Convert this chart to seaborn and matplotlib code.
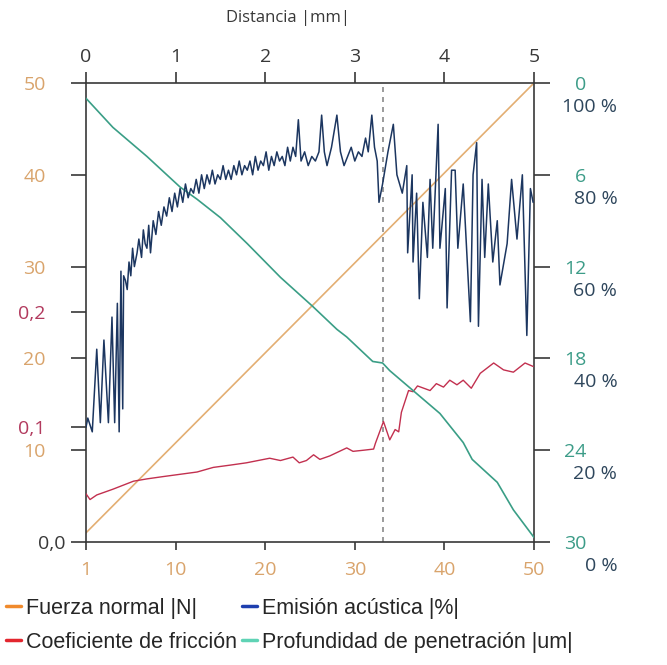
import matplotlib
matplotlib.use("Agg")
import matplotlib.pyplot as plt
import matplotlib.transforms as mtransforms
from matplotlib.lines import Line2D
import seaborn as sns

sns.set_style("white")
plt.rcParams['font.family'] = ['Open Sans', 'DejaVu Sans']

# Fuerza normal |N| (recta de 1 a 50 N)
fuerza_d = [0.0, 5.0]
fuerza_n = [1.0, 50.0]

# Profundidad de penetracion |um| (eje derecho, invertido)
prof_d = [0.0, 0.30, 0.68, 1.05, 1.24, 1.50, 1.80, 2.17, 2.53, 2.80, 2.91,
          3.20, 3.31, 3.39, 3.65, 3.95, 4.21, 4.31, 4.59, 4.77, 5.0]
prof_um = [1.0, 2.9, 4.8, 6.8, 7.6, 8.8, 10.5, 12.7, 14.6, 16.1, 16.6,
           18.2, 18.3, 18.8, 20.1, 21.6, 23.5, 24.6, 26.1, 27.9, 29.7]

# Coeficiente de friccion
fric_d = [0.0, 0.045, 0.12, 0.30, 0.53, 0.68, 0.86, 1.05, 1.24, 1.42, 1.61,
          1.79, 2.05, 2.17, 2.31, 2.38, 2.46, 2.54, 2.61, 2.72, 2.91, 2.98,
          3.10, 3.21, 3.23, 3.32, 3.39, 3.45, 3.49, 3.52, 3.60, 3.65, 3.70,
          3.77, 3.84, 3.91, 3.99, 4.06, 4.14, 4.21, 4.30, 4.40, 4.55, 4.66,
          4.77, 4.90, 4.99]
friccion = [0.042, 0.037, 0.041, 0.046, 0.053, 0.055, 0.057, 0.059, 0.061,
            0.065, 0.067, 0.069, 0.073, 0.071, 0.074, 0.069, 0.071, 0.076,
            0.072, 0.075, 0.082, 0.079, 0.080, 0.081, 0.086, 0.105, 0.089,
            0.098, 0.096, 0.113, 0.132, 0.131, 0.136, 0.134, 0.132, 0.138,
            0.135, 0.141, 0.137, 0.141, 0.134, 0.147, 0.156, 0.150, 0.148,
            0.156, 0.153]

# Emision acustica |%|
emision_d = [0.00, 0.02, 0.07, 0.12, 0.16, 0.20, 0.25, 0.29, 0.32, 0.35,
             0.37, 0.39, 0.41, 0.42, 0.44, 0.46, 0.48, 0.50, 0.52, 0.54,
             0.57, 0.59, 0.62, 0.64, 0.66, 0.68, 0.70, 0.72, 0.75, 0.78,
             0.81, 0.84, 0.87, 0.90, 0.93, 0.96, 0.99, 1.02, 1.05, 1.08,
             1.11, 1.14, 1.17, 1.20, 1.23, 1.26, 1.29, 1.32, 1.35, 1.38,
             1.41, 1.44, 1.47, 1.50, 1.53, 1.56, 1.59, 1.62, 1.65, 1.68,
             1.71, 1.74, 1.77, 1.80, 1.83, 1.86, 1.89, 1.92, 1.95, 1.98,
             2.01, 2.04, 2.07, 2.10, 2.13, 2.16, 2.19, 2.22, 2.25, 2.28,
             2.31, 2.34, 2.37, 2.40, 2.44, 2.48, 2.52, 2.56, 2.60, 2.63,
             2.66, 2.69, 2.74, 2.80, 2.84, 2.88, 2.92, 2.96, 3.00, 3.04,
             3.08, 3.12, 3.15, 3.19, 3.22, 3.25, 3.27, 3.31, 3.37, 3.43,
             3.47, 3.53, 3.58, 3.59, 3.64, 3.65, 3.69, 3.72, 3.76, 3.81,
             3.84, 3.87, 3.93, 3.95, 4.01, 4.03, 4.08, 4.12, 4.15, 4.21,
             4.29, 4.32, 4.36, 4.38, 4.42, 4.45, 4.49, 4.54, 4.59, 4.62,
             4.70, 4.75, 4.81, 4.87, 4.92, 4.96, 4.99]
emision_pct = [25, 27, 24, 42, 26, 44, 26, 49, 26, 52,
               24, 59, 29, 58, 57, 55, 61, 58, 64, 60,
               63, 66, 62, 68, 65, 64, 69, 63, 70, 67,
               72, 69, 73, 71, 75, 72, 76, 73, 77, 74,
               78, 75, 77, 76, 79, 76, 80, 77, 80, 78,
               81, 78, 80, 79, 82, 79, 81, 79, 82, 80,
               83, 80, 82, 81, 83, 80, 84, 81, 83, 82,
               85, 81, 84, 82, 85, 83, 84, 82, 86, 83,
               86, 84, 92, 83, 85, 82, 84, 83, 85, 93,
               85, 82, 86, 93, 85, 82, 84, 86, 83, 85,
               84, 88, 85, 93, 86, 83, 74, 78, 85, 91,
               80, 76, 82, 63, 80, 61, 76, 53, 74, 62,
               79, 64, 91, 64, 77, 51, 81, 81, 64, 78,
               48, 80, 87, 47, 79, 62, 78, 61, 70, 56,
               65, 79, 66, 80, 45, 77, 74]

xticks_mm = [0, 1, 2, 3, 4, 5]
fuerza_labels = ['1', '10', '20', '30', '40', '50']
fuerza_ticks = [10, 20, 30, 40, 50]
fric_ticks = [0.0, 0.1, 0.2]
fric_labels = ['0,0', '0,1', '0,2']
prof_ticks = [0, 6, 12, 18, 24, 30]
em_ticks = [0, 20, 40, 60, 80, 100]
em_labels = ['0 %', '20 %', '40 %', '60 %', '80 %', '100 %']
corte_mm = 3.32

c_fuerza = '#E3AE72'
c_fuerza_txt = '#D9A46C'
c_fric = '#C2304F'
c_fric_txt = '#B23A5E'
c_prof = '#3A9E86'
c_prof_txt = '#3C9C88'
c_em = '#1C3660'
c_em_txt = '#2E465C'
c_dark = '#383838'

fig = plt.figure(figsize=(6.67, 6.65), dpi=100)
ax = fig.add_axes([86/667, 123/665, 448/667, 459/665])
ax_fric = ax.twinx()
ax_prof = ax.twinx()
ax_em = ax.twinx()

sns.lineplot(x=fuerza_d, y=fuerza_n, ax=ax, color=c_fuerza, lw=1.2,
             estimator=None, sort=False)
ax.axvline(corte_mm, color='#8a8a8a', lw=1.2, ls=(0, (3, 3)))
sns.lineplot(x=fric_d, y=friccion, ax=ax_fric, color=c_fric, lw=1.0,
             estimator=None, sort=False)
sns.lineplot(x=prof_d, y=prof_um, ax=ax_prof, color=c_prof, lw=1.2,
             estimator=None, sort=False)
sns.lineplot(x=emision_d, y=emision_pct, ax=ax_em, color=c_em, lw=1.1,
             estimator=None, sort=False)

for a in (ax, ax_fric, ax_prof, ax_em):
    a.set_xlim(0, 5)
    a.set_xlabel('')
    a.set_ylabel('')

# eje principal: fuerza
ax.set_ylim(0, 50)
ax.set_xticks(xticks_mm)
ax.set_xticklabels(fuerza_labels)
ax.set_yticks(fuerza_ticks)
ax.tick_params(axis='x', bottom=True, direction='out', length=6, width=1.2,
               color=c_dark, pad=8, labelsize=14, labelcolor=c_fuerza_txt)
ax.tick_params(axis='y', left=True, direction='out', length=11, width=1.2,
               color=c_dark, pad=18, labelsize=14, labelcolor=c_fuerza_txt)
for s in ax.spines.values():
    s.set_color(c_dark)
    s.set_linewidth(1.2)

# friccion en la izquierda
ax_fric.set_ylim(0, 0.4)
ax_fric.yaxis.tick_left()
ax_fric.set_yticks(fric_ticks)
ax_fric.set_yticklabels(fric_labels)
ax_fric.tick_params(axis='y', left=True, right=False, labelleft=True,
                    labelright=False, direction='out', length=11, width=1.2,
                    color=c_dark, pad=18, labelsize=14)
flabs = ax_fric.get_yticklabels()
flabs[0].set_color(c_dark)
flabs[0].set_transform(flabs[0].get_transform() +
                       mtransforms.ScaledTranslation(0.2, 0, fig.dpi_scale_trans))
for lab in flabs[1:]:
    lab.set_color(c_fric_txt)

# profundidad a la derecha (invertida)
ax_prof.set_ylim(30, 0)
ax_prof.set_yticks(prof_ticks)
ax_prof.tick_params(axis='y', right=True, direction='out', length=11.5,
                    width=1.2, color=c_dark, pad=26, labelsize=14,
                    labelcolor=c_prof_txt)
for lab in ax_prof.get_yticklabels():
    lab.set_horizontalalignment('right')

# emision acustica a la derecha, debajo de la profundidad
ax_em.set_ylim(0, 100)
ax_em.set_yticks(em_ticks)
ax_em.set_yticklabels(em_labels)
ax_em.tick_params(axis='y', right=True, length=0, pad=60, labelsize=14,
                  labelcolor=c_em_txt)
for lab in ax_em.get_yticklabels():
    lab.set_horizontalalignment('right')
    lab.set_transform(lab.get_transform() +
                      mtransforms.ScaledTranslation(0, -0.22, fig.dpi_scale_trans))

for a in (ax_fric, ax_prof, ax_em):
    for s in a.spines.values():
        s.set_visible(False)
    a.tick_params(axis='x', bottom=False, top=False, labelbottom=False)

# eje superior: distancia
sec = ax.secondary_xaxis('top')
sec.set_xticks(xticks_mm)
sec.tick_params(axis='x', direction='out', length=8, width=1.2, color=c_dark,
                pad=4, labelsize=14, labelcolor=c_dark)
sec.spines['top'].set_visible(False)
sec.set_xlabel('Distancia |mm|', fontsize=12, color=c_dark)
sec.xaxis.set_label_coords(288/667, 1 - 18/665, transform=fig.transFigure)
sec.xaxis.label.set_va('center')

# leyenda en dos columnas independientes
leg_font = {'family': 'Liberation Sans', 'size': 15.5}
leg_kw = dict(loc='upper left', frameon=False, prop=leg_font,
              handlelength=0.7, handletextpad=0.25, labelspacing=0.6,
              borderaxespad=0, borderpad=0)
leg1 = fig.legend([Line2D([], [], color='#F08A2C', lw=2.5),
                   Line2D([], [], color='#E3262E', lw=2.5)],
                  ['Fuerza normal |N|', 'Coeficiente de fricción'],
                  bbox_to_anchor=(6/667, 1 - 598/665), **leg_kw)
leg2 = fig.legend([Line2D([], [], color='#1E3FAF', lw=2.5),
                   Line2D([], [], color='#5FD3B5', lw=2.5)],
                  ['Emisión acústica |%|', 'Profundidad de penetración |um|'],
                  bbox_to_anchor=(242/667, 1 - 598/665), **leg_kw)

fig.savefig('out.png', dpi=100)
